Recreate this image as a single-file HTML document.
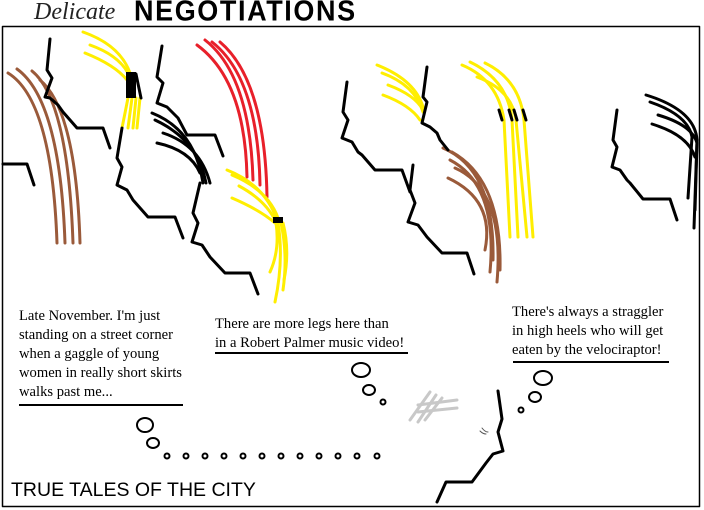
<!DOCTYPE html>
<html><head><meta charset="utf-8"><style>
body{margin:0;width:704px;height:510px;background:#fff;overflow:hidden;position:relative;font-family:"Liberation Serif",serif}
.t{position:absolute;font-size:14.6px;line-height:19px;color:#000;white-space:nowrap}
.u{position:absolute;height:2px;background:#000}
</style></head><body>
<div style="position:absolute;left:34px;top:-1px;font-family:'Liberation Serif',serif;font-style:italic;font-size:24px;letter-spacing:0px;color:#222">Delicate</div>
<div style="position:absolute;left:134px;top:-4px;font-family:'Liberation Sans',sans-serif;font-weight:900;font-size:27px;letter-spacing:1.6px;transform:scaleY(1.05)">NEGOTIATIONS</div>
<svg width="704" height="510" style="position:absolute;left:0;top:0" fill="none" stroke-linecap="round" stroke-linejoin="round">
<rect x="2.5" y="26.5" width="697" height="480" stroke="#000" stroke-width="1.5"/>
<g stroke="#9a5a3a" stroke-width="3">
<path d="M8 73 Q52 100 57 243"/><path d="M17 69 Q60 100 65 243"/><path d="M32 71 Q68 100 73 243"/><path d="M40 80 Q76 110 80 243"/>
</g>
<g stroke="#e8202a" stroke-width="3">
<path d="M197 45 Q245 80 247 177"/><path d="M205 40 Q250 75 253 180"/><path d="M212 42 Q258 78 260 185"/><path d="M220 42 Q265 80 267 197"/>
</g>
<g stroke="#ffee00" stroke-width="3">
<path d="M83 32 Q120 45 130 73"/><path d="M90 45 Q118 55 128 73"/><path d="M85 53 Q115 65 127 80"/>
<path d="M128 98 L122 128"/><path d="M132 98 L128 128"/><path d="M136 98 L133 128"/><path d="M140 98 L137 128"/>
</g>
<rect x="126" y="72" width="10" height="26" fill="#000"/><path d="M136 74 L141 98" stroke="#000" stroke-width="3"/>
<g stroke="#ffee00" stroke-width="3">
<path d="M227 170 Q265 185 277 220"/><path d="M232 175 Q268 190 278 218"/><path d="M239 186 Q265 200 275 220"/><path d="M232 198 Q260 210 275 223"/>
<path d="M276 223 Q280 250 270 272"/><path d="M278 223 Q284 260 275 302"/><path d="M281 223 Q288 255 283 290"/><path d="M283 223 Q290 250 284 280"/>
</g>
<rect x="273" y="217" width="10" height="6" fill="#000"/>
<g stroke="#ffee00" stroke-width="3">
<path d="M377 65 Q415 80 423 107"/><path d="M382 73 Q415 85 423 112"/><path d="M388 85 Q415 95 423 110"/><path d="M383 95 Q410 105 420 120"/>
</g>
<g stroke="#ffee00" stroke-width="3">
<path d="M462 65 Q498 80 504 120 L510 237"/><path d="M470 62 Q508 80 512 120 L518 237"/><path d="M477 77 Q512 90 516 120 L527 237"/><path d="M485 63 Q520 80 524 120 L533 237"/>
</g>
<g stroke="#000" stroke-width="3"><path d="M499 110 L502 120"/><path d="M509 110 L512 120"/><path d="M514 110 L517 120"/><path d="M523 110 L526 120"/></g>
<g stroke="#9a5a3a" stroke-width="3">
<path d="M443 148 Q495 170 493 260"/><path d="M452 152 Q502 180 500 270"/><path d="M455 168 Q505 190 497 282"/><path d="M448 178 Q495 200 485 250"/><path d="M450 160 Q498 185 490 272"/>
</g>
<g stroke="#000" stroke-width="3">
<path d="M152 113 Q195 130 203 183"/><path d="M157 143 Q190 150 200 173"/><path d="M163 133 Q200 145 210 183"/><path d="M155 120 Q198 140 206 183"/>
<path d="M646 95 Q695 110 697 140 L694 228"/><path d="M650 102 Q688 115 692 137 L688 198"/><path d="M658 115 Q692 125 697 143 L695 210"/><path d="M652 124 Q688 135 695 157"/>
</g>
<g stroke="#000" stroke-width="3">
<path d="M50 39 L47 70 L52 78 L45 97 L50 98 L58 105 L63 112 L77 128 L103 128 L110 148"/>
<path d="M3 164 L27 164 L34 185"/>
<path d="M122 128 L117 158 L122 167 L117 185 L127 190 L133 200 L148 217 L175 217 L183 238"/>
<path d="M162 46 L157 77 L163 83 L157 103 L167 107 L178 118 L187 135 L215 135 L223 156"/>
<path d="M200 183 L193 213 L198 223 L192 242 L202 245 L210 257 L225 273 L250 273 L258 294"/>
<path d="M347 82 L343 112 L348 120 L342 138 L352 142 L358 152 L362 155 L375 170 L402 170 L410 192"/>
<path d="M427 67 L423 97 L427 102 L422 123 L430 127 L437 133 L440 140 L448 150"/>
<path d="M413 165 L410 190 L415 203 L408 222 L418 225 L427 237 L442 253 L467 253 L474 274"/>
<path d="M617 110 L613 140 L617 147 L612 167 L620 170 L627 180 L630 183 L643 199 L670 199 L677 220"/>
<path d="M498 391 L502 419 L498 432 L503 451 L493 454 L486 463 L472 482 L446 482 L437 502"/>
</g>
<path d="M482 428 q3 4 6 4 M480 431 q3 3 6 3" stroke="#555" stroke-width="1"/>
<g stroke="#c8c8c8" stroke-width="3"><path d="M430 392 L410 420"/><path d="M436 395 L418 422"/><path d="M442 398 L425 420"/><path d="M418 405 L457 400"/><path d="M418 412 L457 408"/></g>
<g stroke="#000" stroke-width="2">
<ellipse cx="145" cy="425" rx="8" ry="7"/><ellipse cx="153" cy="443" rx="6" ry="5"/>
<ellipse cx="361" cy="370" rx="9" ry="7"/><ellipse cx="369" cy="390" rx="6" ry="5"/><circle cx="383" cy="402" r="2.5"/>
<ellipse cx="543" cy="378" rx="9" ry="7"/><ellipse cx="535" cy="397" rx="6" ry="5"/><circle cx="521" cy="410" r="2.5"/>
<circle cx="167" cy="456" r="2.5"/><circle cx="186" cy="456" r="2.5"/><circle cx="205" cy="456" r="2.5"/><circle cx="224" cy="456" r="2.5"/><circle cx="243" cy="456" r="2.5"/><circle cx="262" cy="456" r="2.5"/><circle cx="281" cy="456" r="2.5"/><circle cx="300" cy="456" r="2.5"/><circle cx="319" cy="456" r="2.5"/><circle cx="338" cy="456" r="2.5"/><circle cx="357" cy="456" r="2.5"/><circle cx="377" cy="456" r="2.5"/>
</g>
</svg>
<div class="t" style="left:19px;top:307px">Late November. I'm just<br>standing on a street corner<br>when a gaggle of young<br>women in really short skirts<br>walks past me...</div>
<div class="u" style="left:19px;top:404px;width:164px"></div>
<div class="t" style="left:215px;top:315px">There are more legs here than<br>in a Robert Palmer music video!</div>
<div class="u" style="left:215px;top:352px;width:193px"></div>
<div class="t" style="left:512px;top:303px">There's always a straggler<br>in high heels who will get<br>eaten by the velociraptor!</div>
<div class="u" style="left:513px;top:361px;width:156px"></div>
<div style="position:absolute;left:11px;top:479px;font-family:'Liberation Sans',sans-serif;font-size:19.5px;line-height:22px">TRUE TALES OF THE CITY</div>
</body></html>
